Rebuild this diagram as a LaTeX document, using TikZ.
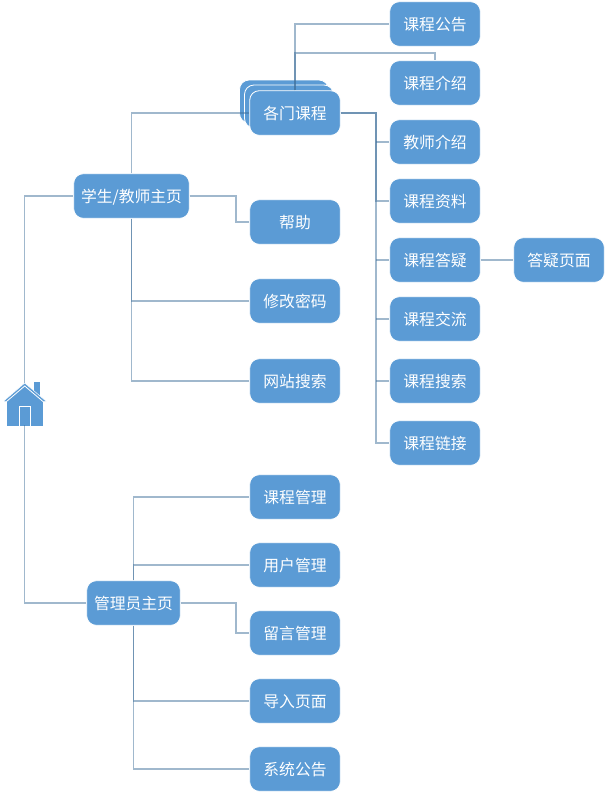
\documentclass[tikz,border=0pt]{standalone}
\usepackage{fontspec}
\setmainfont{Noto Sans CJK SC}
\begin{document}
\begin{tikzpicture}[x=1pt,y=-1pt,
  box/.style={fill=boxblue,draw=white,line width=0.8pt,rounded corners=9.5pt,text=white,font=\fontsize{15.8pt}{18pt}\selectfont,inner sep=0pt,text height=13pt,text depth=0pt,minimum height=44.6pt,minimum width=90.6pt,anchor=center},
  link/.style={draw=linkblue,line width=1.3pt,draw opacity=0.5},
]
\definecolor{boxblue}{HTML}{5B9BD5}
\definecolor{linkblue}{HTML}{41719C}
\useasboundingbox (0,0) rectangle (606,793);
% house
\coordinate (hometop) at (24.7,383);
\coordinate (homebot) at (24.7,425);
\coordinate (trunk) at (376,113);
\fill[boxblue] (34,381.5) rectangle (39.5,396);
\fill[boxblue,draw=white,line width=0.5pt] (3.2,401.5) -- (24.7,383) -- (46.5,401.5) -- cycle;
\fill[boxblue] (7,401) rectangle (43,425.5);
\draw[white,line width=0.8pt,fill=boxblue] (19,425.5) -- (19,406) -- (30.5,406) -- (30.5,425.5);
\draw[white,line width=0.8pt] (6.5,401.5) -- (24.7,386) -- (43,401.5);
% nodes
\node[box,minimum width=115.6pt] (stu) at (131.5,196) {学生/教师主页};
\node[box,minimum width=93.6pt] (adm) at (133.5,603) {管理员主页};
\node[box,minimum width=89pt,minimum height=43pt] (cb2) at (284,101.5) {};
\node[box,minimum width=89pt,minimum height=43pt] (cb1) at (289,106.5) {};
\node[box] (cou) at (295,113) {各门课程};
\node[box] (help) at (295,222) {帮助};
\node[box] (pwd) at (295,301) {修改密码};
\node[box] (sea) at (295,381) {网站搜索};
\node[box] (c1) at (435,24) {课程公告};
\node[box] (c2) at (435,83) {课程介绍};
\node[box] (c3) at (435,142) {教师介绍};
\node[box] (c4) at (435,201) {课程资料};
\node[box] (c5) at (435,260) {课程答疑};
\node[box] (c6) at (435,319) {课程交流};
\node[box] (c7) at (435,381) {课程搜索};
\node[box] (c8) at (435,443) {课程链接};
\node[box] (ans) at (559,260) {答疑页面};
\node[box] (a1) at (295,497) {课程管理};
\node[box] (a2) at (295,565) {用户管理};
\node[box] (a3) at (295,633) {留言管理};
\node[box] (a4) at (295,701) {导入页面};
\node[box] (a5) at (295,769) {系统公告};
% connectors
\draw[link] (hometop) |- (stu.west);
\draw[link] (homebot) |- (adm.west);
\draw[link] (stu.north) |- (cou.west);
\draw[link] (stu.east) -| (236,222) -- (help.west);
\draw[link] (stu.south) |- (pwd.west);
\draw[link] (stu.south) |- (sea.west);
\draw[link] (adm.north) |- (a1.west);
\draw[link] (adm.north) |- (a2.west);
\draw[link] (adm.east) -| (236,633) -- (a3.west);
\draw[link] (adm.south) |- (a4.west);
\draw[link] (adm.south) |- (a5.west);
\draw[link] (cou.north) |- (c1.west);
\draw[link] (cou.north) |- (435,53) -- (c2.north);
\draw[link] (cou.east) -- (trunk) |- (c8.west);
\draw[link] (cou.east) -- (trunk) |- (c4.west);
\foreach \n in {c3,c5,c6,c7}{
  \draw[link] (trunk |- \n.west) -- (\n.west);
}
\draw[link] (c5.east) -- (ans.west);
\end{tikzpicture}
\end{document}
